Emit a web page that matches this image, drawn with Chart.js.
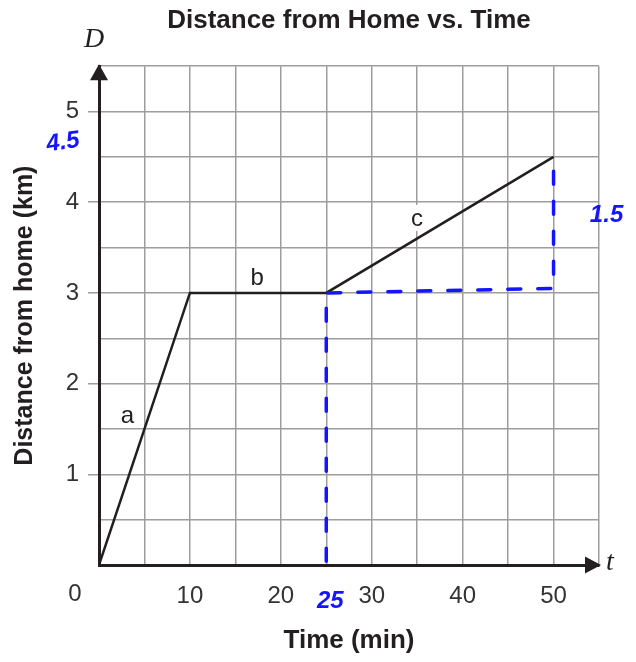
<!DOCTYPE html>
<html><head><meta charset="utf-8">
<script src="https://cdn.jsdelivr.net/npm/chart.js@4/dist/chart.umd.min.js"></script>
<style>html,body{margin:0;padding:0;background:#fff}#wrap{width:636px;height:662px;position:relative}</style>
</head><body><div id="wrap"><canvas id="c"></canvas></div>
<script>
// ---- data ----
const times = [0, 10, 25, 50];
const distances = [0, 3, 3, 4.5];
const segmentLabels = ['a', 'b', 'c'];
const xTickLabels = [10, 20, 30, 40, 50];
const yTickLabels = [1, 2, 3, 4, 5];
const guideTimes = [25, 25, 50, 50];
const guideDistances = [0.04, 3, 3.05, 4.5];
const handNotes = ['4.5', '25', '1.5'];

const INK = '#231f20', GRID = '#9d9d9d', BLUE = '#1414ff';
const SANS = '"Liberation Sans", Arial, Helvetica, sans-serif';
const SERIF = '"Liberation Serif", "Times New Roman", serif';

const decor = {
  id: 'decor',
  beforeDatasetsDraw(chart) {
    const {ctx, scales: {x, y}} = chart;
    ctx.save();
    const offs = [[-17, -14], [-1, -16], [-23, -7]];
    ctx.font = '24px ' + SANS;
    ctx.textAlign = 'center';
    ctx.textBaseline = 'middle';
    segmentLabels.forEach((lab, i) => {
      const mx = (x.getPixelForValue(times[i]) + x.getPixelForValue(times[i + 1])) / 2 + offs[i][0];
      const my = (y.getPixelForValue(distances[i]) + y.getPixelForValue(distances[i + 1])) / 2 + offs[i][1];
      ctx.fillStyle = '#fff';
      ctx.fillRect(mx - 11, my - 13, 22, 26);
      ctx.fillStyle = INK;
      ctx.fillText(lab, mx, my + 1);
    });
    ctx.restore();
  },
  afterDatasetsDraw(chart) {
    const {ctx, scales: {x, y}} = chart;
    ctx.save();
    const ox = x.getPixelForValue(0), oy = y.getPixelForValue(0);
    const top = y.getPixelForValue(y.max), right = x.getPixelForValue(x.max);
    ctx.fillStyle = INK;
    ctx.beginPath();
    ctx.moveTo(ox, top - 2); ctx.lineTo(ox - 9, top + 14); ctx.lineTo(ox + 9, top + 14); ctx.closePath(); ctx.fill();
    ctx.beginPath();
    ctx.moveTo(right + 2, oy); ctx.lineTo(right - 14, oy - 8.5); ctx.lineTo(right - 14, oy + 8.5); ctx.closePath(); ctx.fill();
    ctx.font = 'italic 28px ' + SERIF;
    ctx.textAlign = 'center';
    ctx.textBaseline = 'middle';
    ctx.fillText('D', ox - 5, top - 27);
    ctx.fillText('t', right + 11, oy - 2);
    ctx.font = '24px ' + SANS;
    ctx.fillStyle = '#333';
    ctx.fillText('0', ox - 24, oy + 29);
    ctx.fillStyle = BLUE;
    ctx.font = 'italic bold 24px ' + SANS;
    ctx.save();
    ctx.translate(ox - 36, y.getPixelForValue(4.66));
    ctx.rotate(-0.15);
    ctx.fillText(handNotes[0], 0, 0);
    ctx.restore();
    ctx.fillText(handNotes[1], x.getPixelForValue(25) + 4, oy + 36);
    ctx.fillText(handNotes[2], x.getPixelForValue(50) + 53, y.getPixelForValue(3.85));
    ctx.restore();
  }
};

new Chart(document.getElementById('c'), {
  type: 'line',
  data: {
    datasets: [
      {
        data: guideTimes.map((t, i) => ({x: t, y: guideDistances[i]})),
        borderColor: BLUE, borderWidth: 3.5, borderDash: [13, 17], borderCapStyle: 'round',
        pointRadius: 0, tension: 0, fill: false
      },
      {
        data: times.map((t, i) => ({x: t, y: distances[i]})),
        borderColor: INK, borderWidth: 2.5, pointRadius: 0, tension: 0, fill: false
      }
    ]
  },
  options: {
    responsive: true, maintainAspectRatio: false, animation: false,
    layout: {padding: {left: 0, right: 37, top: 0, bottom: 0}},
    plugins: {
      legend: {display: false},
      tooltip: {enabled: false},
      title: {
        display: true, fullSize: false, text: 'Distance from Home vs. Time', color: INK,
        font: {family: SANS, weight: 'bold', size: 26}, padding: {top: 5, bottom: 30}
      }
    },
    scales: {
      x: {
        type: 'linear', min: 0, max: 55,
        afterFit(s) { s.height = 97; },
        ticks: {
          stepSize: 5, autoSkip: false, maxRotation: 0, color: '#333', padding: 17,
          font: {family: SANS, size: 24},
          callback: v => xTickLabels.includes(v) ? String(v) : ''
        },
        grid: {color: GRID, lineWidth: 1.5, drawTicks: false},
        border: {color: INK, width: 3},
        title: {display: true, text: 'Time (min)', color: INK, font: {family: SANS, weight: 'bold', size: 26}, padding: {top: 0, bottom: 6}}
      },
      y: {
        type: 'linear', min: 0, max: 5.5,
        afterFit(s) { s.width = 99; },
        ticks: {
          stepSize: 0.5, autoSkip: false, color: '#333', padding: 9,
          font: {family: SANS, size: 24},
          callback: v => yTickLabels.includes(v) ? String(v) : ''
        },
        grid: {
          color: GRID, lineWidth: 1.5, tickLength: 11,
          tickColor: c => (c.tick && yTickLabels.includes(c.tick.value)) ? GRID : 'rgba(0,0,0,0)'
        },
        border: {color: INK, width: 3},
        title: {display: true, text: 'Distance from home (km)', color: INK, font: {family: SANS, weight: 'bold', size: 25}, padding: {top: 10, bottom: 0}}
      }
    }
  },
  plugins: [decor]
});
</script></body></html>
